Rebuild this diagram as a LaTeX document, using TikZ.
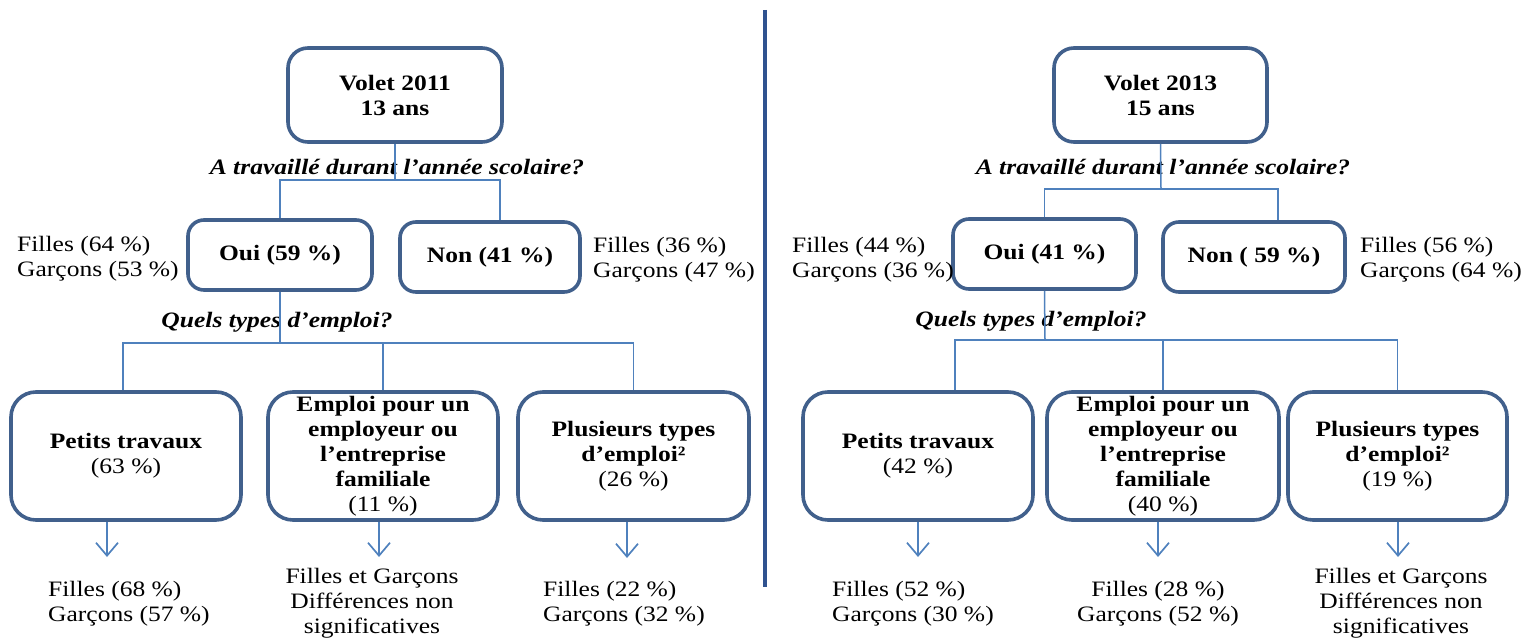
\documentclass[tikz,border=0pt]{standalone}
\usepackage{fontspec}
\setmainfont{Liberation Serif}[FakeStretch=1.16]
\usetikzlibrary{arrows.meta}
\definecolor{boxblue}{HTML}{41608C}
\definecolor{linkblue}{HTML}{4F81BD}
\definecolor{divblue}{HTML}{2F528F}
\begin{document}
\begin{tikzpicture}[x=1pt,y=-1pt,
  txt/.style={font=\fontsize{22}{25}\selectfont},
  box/.style={txt,draw=boxblue,line width=3.6pt,align=center,inner sep=0pt,font=\fontsize{22}{25}\selectfont\bfseries},
  topbox/.style={box,rounded corners=20pt,minimum width=214pt,minimum height=94pt},
  ansbox/.style={box,rounded corners=16pt,minimum height=70pt},
  jobbox/.style={box,rounded corners=25pt,minimum height=128pt},
  conn/.style={draw=linkblue,line width=1.5pt},
  arr/.style={conn,-{Straight Barb[length=13pt,width=22pt,line width=1.7pt]}},
  lbl/.style={txt,align=left,inner sep=0pt,anchor=west},
  clbl/.style={txt,align=center,inner sep=0pt},
  quest/.style={inner sep=0pt,font=\fontsize{22}{25}\selectfont\bfseries\itshape},
  divider/.style={draw=divblue,line width=3.6pt}]
\useasboundingbox (0,0) rectangle (1525,639);

% divider
\coordinate (dtop) at (765,10);
\coordinate (dbot) at (765,587);
\draw[divider] (dtop) -- (dbot);

% ===== Left panel (2011) =====
\node[topbox] (top1) at (395,95) {Volet 2011\\13 ans};
\node[quest] (q1) at (397,167) {A travaillé durant l’année scolaire?};
\node[ansbox,minimum width=184pt] (oui1) at (280,255) {Oui (59~\%)};
\node[ansbox,minimum width=180pt] (non1) at (490,257) {Non (41~\%)};
\node[lbl] (l1) at (17,259) {Filles (64~\%)\\Garçons (53~\%)};
\node[lbl] (l2) at (593,260) {Filles (36~\%)\\Garçons (47~\%)};
\node[quest] (q2) at (277,322) {Quels types d’emploi?};
\node[jobbox,minimum width=230pt] (pt1) at (126,456) {Petits travaux\\\mdseries(63~\%)};
\node[jobbox,minimum width=230pt] (em1) at (383,456) {Emploi pour un\\employeur ou\\l’entreprise\\familiale\\\mdseries(11~\%)};
\node[jobbox,minimum width=231pt] (pl1) at (633.5,456) {Plusieurs types\\d’emploi²\\\mdseries(26~\%)};
\node[lbl] (l3) at (48,604) {Filles (68~\%)\\Garçons (57~\%)};
\node[clbl] (l4) at (372,603) {Filles et Garçons\\Différences non\\significatives};
\node[lbl] (l5) at (543,604) {Filles (22~\%)\\Garçons (32~\%)};

\coordinate (j1) at (395,180);
\coordinate (j2) at (280,343);
\draw[conn] (top1.south) -- (j1);
\draw[conn] (j1) -| (oui1.north);
\draw[conn] (j1) -| ([xshift=10pt]non1.north);
\draw[conn] (oui1.south) -- (j2);
\draw[conn] (j2) -| ([xshift=-3pt]pt1.north);
\draw[conn] (j2) -| (em1.north);
\draw[conn] (j2) -| (pl1.north);

\coordinate (t1) at (107,557);
\coordinate (t2) at (379,557);
\coordinate (t3) at (627,558);
\draw[arr] (pt1.south -| t1) -- (t1);
\draw[arr] (em1.south -| t2) -- (t2);
\draw[arr] (pl1.south -| t3) -- (t3);

% ===== Right panel (2013) =====
\node[topbox,minimum width=213pt] (top2) at (1160.5,95) {Volet 2013\\15 ans};
\node[quest] (q3) at (1163,167) {A travaillé durant l’année scolaire?};
\node[ansbox,minimum width=183pt] (oui2) at (1044.5,254) {Oui (41~\%)};
\node[ansbox,minimum width=182pt] (non2) at (1254,257) {Non ( 59~\%)};
\node[lbl] (r1) at (792,260) {Filles (44~\%)\\Garçons (36~\%)};
\node[lbl] (r2) at (1360,259.5) {Filles (56~\%)\\Garçons (64~\%)};
\node[quest] (q4) at (1031,321) {Quels types d’emploi?};
\node[jobbox,minimum width=230pt] (pt2) at (918,456) {Petits travaux\\\mdseries(42~\%)};
\node[jobbox,minimum width=232pt] (em2) at (1163,456) {Emploi pour un\\employeur ou\\l’entreprise\\familiale\\\mdseries(40~\%)};
\node[jobbox,minimum width=219pt] (pl2) at (1397.5,456) {Plusieurs types\\d’emploi²\\\mdseries(19~\%)};
\node[lbl] (r3) at (832,604) {Filles (52~\%)\\Garçons (30~\%)};
\node[clbl] (r4) at (1158,604) {Filles (28~\%)\\Garçons (52~\%)};
\node[clbl] (r5) at (1401,603) {Filles et Garçons\\Différences non\\significatives};

\coordinate (j3) at (1161,189);
\coordinate (j4) at (1045,340);
\draw[conn] (top2.south) -- (j3);
\draw[conn] (j3) -| (oui2.north);
\draw[conn] (j3) -| ([xshift=24pt]non2.north);
\draw[conn] (oui2.south) -- (j4);
\draw[conn] (j4) -| ([xshift=37pt]pt2.north);
\draw[conn] (j4) -| (em2.north);
\draw[conn] (j4) -| (pl2.north);

\coordinate (t4) at (918,557);
\coordinate (t5) at (1158,557);
\coordinate (t6) at (1398,557);
\draw[arr] (pt2.south -| t4) -- (t4);
\draw[arr] (em2.south -| t5) -- (t5);
\draw[arr] (pl2.south -| t6) -- (t6);
\end{tikzpicture}
\end{document}
